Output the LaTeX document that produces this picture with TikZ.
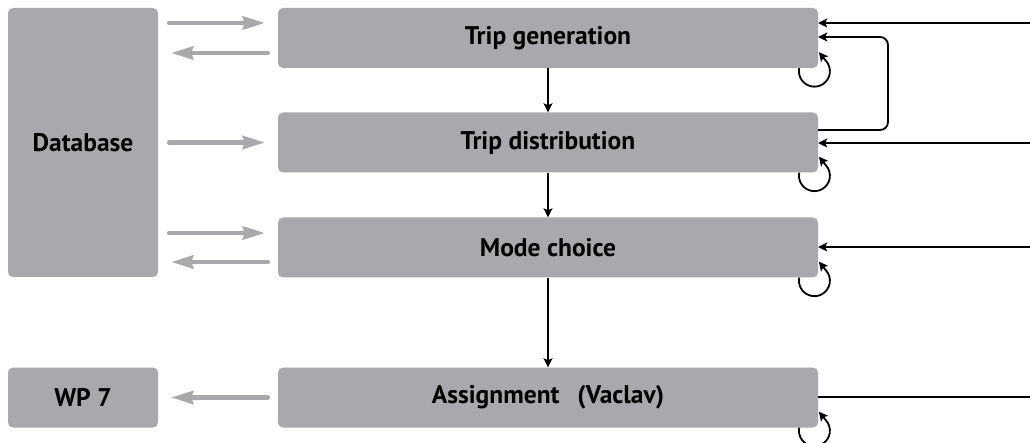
\documentclass[tikz,border=0pt]{standalone}
\usepackage{fontspec}
\setmainfont{PT Sans}
\usetikzlibrary{arrows.meta,calc}
\definecolor{boxgray}{HTML}{A7A9AC}
\begin{document}
\begin{tikzpicture}[x=1pt,y=-1pt,
  box/.style={fill=boxgray, rounded corners=5pt, inner sep=0pt, text=black,
    font=\bfseries\fontsize{25.5}{30}\selectfont},
  stage/.style={box, minimum width=540pt, minimum height=60pt},
  side/.style={box, minimum width=150pt},
  flow/.style={-{Stealth[length=9pt,width=9pt,inset=2pt]}, line width=1.8pt, black},
  plain/.style={line width=1.8pt, black},
  dataflow/.style={-{Stealth[length=22pt,width=13pt,inset=2pt]}, line width=4.5pt,
    boxgray, line cap=round},
]
\useasboundingbox (0,0) rectangle (1030,443);

% model stages
\node[stage] (gen)    at (548,38)    {Trip generation};
\node[stage] (dist)   at (548,142.5) {Trip distribution};
\node[stage] (mode)   at (548,247.5) {Mode choice};
\node[stage] (assign) at (548,397.5) {Assignment\hspace{0.45em} (Vaclav)};

% data sources and sinks
\node[side, minimum height=269pt] (db)  at (83,142.5) {Database};
\node[side, minimum height=60pt]  (wp7) at (83,397.5) {WP 7};

% exchange with the database
\draw[dataflow] ($(db.east |- gen.center)+(11,-15)$) -- ($(gen.west)+(-13,-15)$);
\draw[dataflow] ($(gen.west)+(-10,15)$) -- ($(db.east |- gen.center)+(13,15)$);
\draw[dataflow] ($(db.east |- dist.center)+(11,0)$) -- ($(dist.west)+(-13,0)$);
\draw[dataflow] ($(db.east |- mode.center)+(11,-14.5)$) -- ($(mode.west)+(-13,-14.5)$);
\draw[dataflow] ($(mode.west)+(-10,14.5)$) -- ($(db.east |- mode.center)+(13,14.5)$);
\draw[dataflow] ($(assign.west)+(-10,0)$) -- ($(wp7.east)+(13,0)$);

% sequence of stages
\draw[flow] (gen.south)  -- (dist.north);
\draw[flow] (dist.south) -- (mode.north);
\draw[flow] (mode.south) -- (assign.north);

% external inputs on the right
\coordinate (inA) at (1030,23);
\coordinate (inB) at (1030,143);
\coordinate (inC) at (1030,247);
\coordinate (outD) at (1030,397);
\draw[flow] (inA) -- (inA -| gen.east);
\draw[flow] (inB) -- (inB -| dist.east);
\draw[flow] (inC) -- (inC -| mode.east);
\draw[plain] (outD -| assign.east) -- (outD);

% feedback from distribution to generation
\draw[flow, rounded corners=8pt] ($(dist.east)+(0,-12.5)$) -| (888,37) -- ($(gen.east)+(0,-1)$);

% self loops round the lower right corner of each stage
\foreach \b in {gen,dist,mode,assign}
  \draw[flow] ($(\b.south east)+(-19,0)$) arc[start angle=191, end angle=-45, radius=15.5]
    -- ++(-6.5,-8);
\end{tikzpicture}
\end{document}
